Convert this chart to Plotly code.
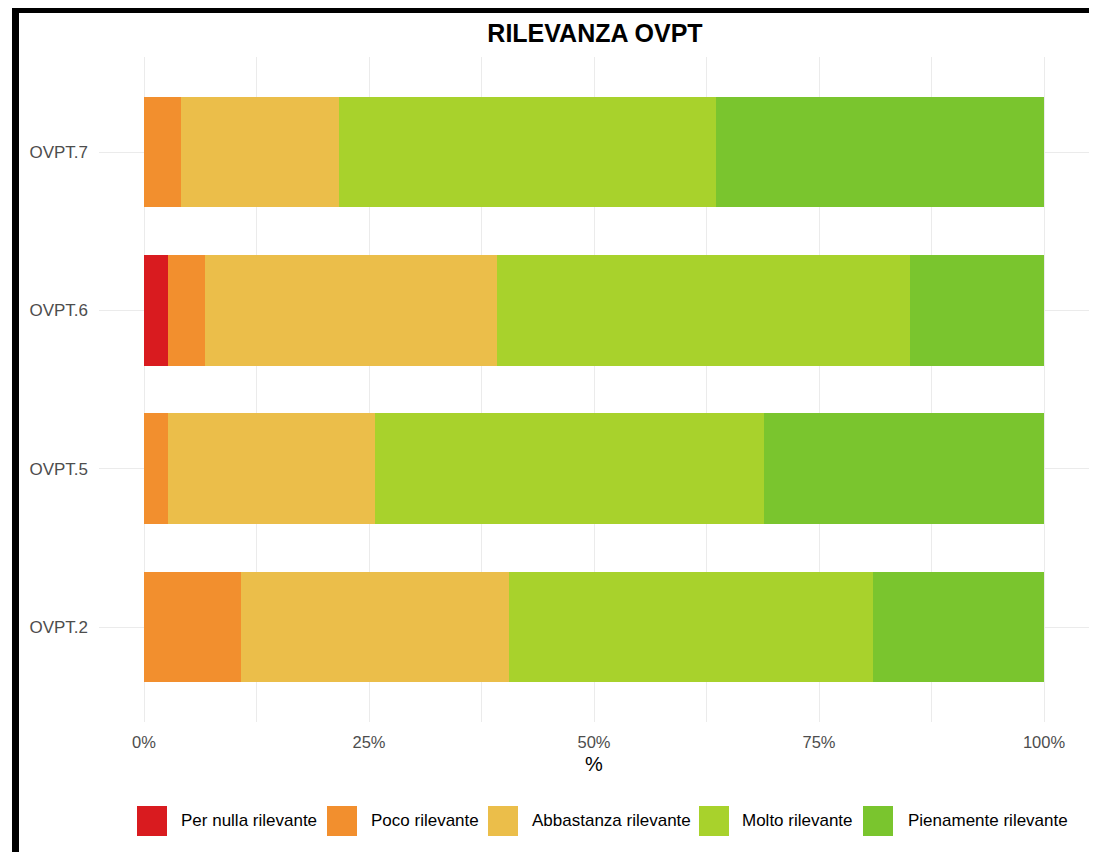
# Imports
import plotly.graph_objects as go

########################
# Data (percent of answers)
categories = ["OVPT.2", "OVPT.5", "OVPT.6", "OVPT.7"]
levels = ["Per nulla rilevante", "Poco rilevante", "Abbastanza rilevante",
          "Molto rilevante", "Pienamente rilevante"]
per_nulla = [0.0, 0.0, 2.7, 0.0]
poco = [10.8, 2.7, 4.1, 4.1]
abbastanza = [29.7, 23.0, 32.4, 17.6]
molto = [40.5, 43.2, 45.9, 41.9]
pienamente = [19.0, 31.1, 14.9, 36.4]
colors = ["#D91B1F", "#F28F2E", "#EBBE4A", "#A8D22C", "#7AC52E"]
x_ticks = [0, 25, 50, 75, 100]
x_tick_labels = ["0%", "25%", "50%", "75%", "100%"]
########################

FONT = "Liberation Sans, Arial, sans-serif"
# the page body has an 8px margin on every side, keep the figure inside it
OFF = 8
W, H = 1097 - 2 * OFF, 860 - 2 * OFF
# plot area in page pixels
L, R, T, B = 99, 1089, 57, 722


# page pixel -> paper helpers (for the border and the hand made legend)
def px(x):
    return (x - L) / (R - L)


def py(y):
    return (B - y) / (B - T)


series = [per_nulla, poco, abbastanza, molto, pienamente]

fig = go.Figure()
for name, vals, col in zip(levels, series, colors):
    fig.add_trace(go.Bar(
        y=categories, x=vals, name=name, orientation="h",
        marker=dict(color=col, line=dict(width=0)),
        width=0.7, showlegend=False,
    ))

shapes = []
annotations = []

# legend: big square keys like ggplot
legend_swatch_x = [137, 327, 488, 699, 863]
legend_text_x = [179, 369, 530, 740, 906]
for name, col, sx, tx in zip(levels, colors, legend_swatch_x, legend_text_x):
    shapes.append(dict(type="rect", xref="paper", yref="paper",
                       x0=px(sx), x1=px(sx + 30), y0=py(836), y1=py(806),
                       fillcolor=col, line=dict(width=0), layer="above"))
    annotations.append(dict(text=name, xref="paper", yref="paper",
                            x=px(tx), y=py(821), xanchor="left", yanchor="middle",
                            showarrow=False, font=dict(family=FONT, size=17, color="black")))

# black frame of the screenshot
shapes.append(dict(type="rect", xref="paper", yref="paper",
                   x0=px(12), x1=px(19), y0=py(870), y1=py(OFF),
                   fillcolor="black", line=dict(width=0)))
shapes.append(dict(type="rect", xref="paper", yref="paper",
                   x0=px(12), x1=px(1100), y0=py(13), y1=py(OFF),
                   fillcolor="black", line=dict(width=0)))

fig.update_layout(
    width=W, height=H,
    margin=dict(l=L - OFF, r=W + OFF - R, t=T - OFF, b=H + OFF - B),
    barmode="stack",
    plot_bgcolor="white", paper_bgcolor="white",
    font=dict(family=FONT, color="#4D4D4D"),
    title=dict(text="<b>RILEVANZA OVPT</b>", xref="container",
               x=(595 - OFF) / W, xanchor="center",
               y=1 - (33 - OFF) / H, yanchor="middle",
               font=dict(family=FONT, size=25, color="black")),
    xaxis=dict(
        range=[-5, 105], tickvals=x_ticks, ticktext=x_tick_labels,
        showgrid=True, gridcolor="#EBEBEB", gridwidth=1.2,
        minor=dict(tickvals=[12.5, 37.5, 62.5, 87.5], showgrid=True,
                   gridcolor="#EBEBEB", gridwidth=1.2),
        zeroline=False, showline=False, ticks="",
        tickfont=dict(family=FONT, size=16.5, color="#4D4D4D"),
        ticklabelstandoff=8,
        title=dict(text="%", standoff=7, font=dict(family=FONT, size=20, color="black")),
    ),
    yaxis=dict(
        type="category", categoryorder="array", categoryarray=categories,
        range=[-0.6, 3.6],
        showgrid=True, gridcolor="#EBEBEB", gridwidth=1.2,
        zeroline=False, showline=False, ticks="",
        tickfont=dict(family=FONT, size=17, color="#4D4D4D"),
        ticklabelstandoff=10,
    ),
    shapes=shapes,
    annotations=annotations,
    bargap=0.3,
)

fig.write_html("out.html")
